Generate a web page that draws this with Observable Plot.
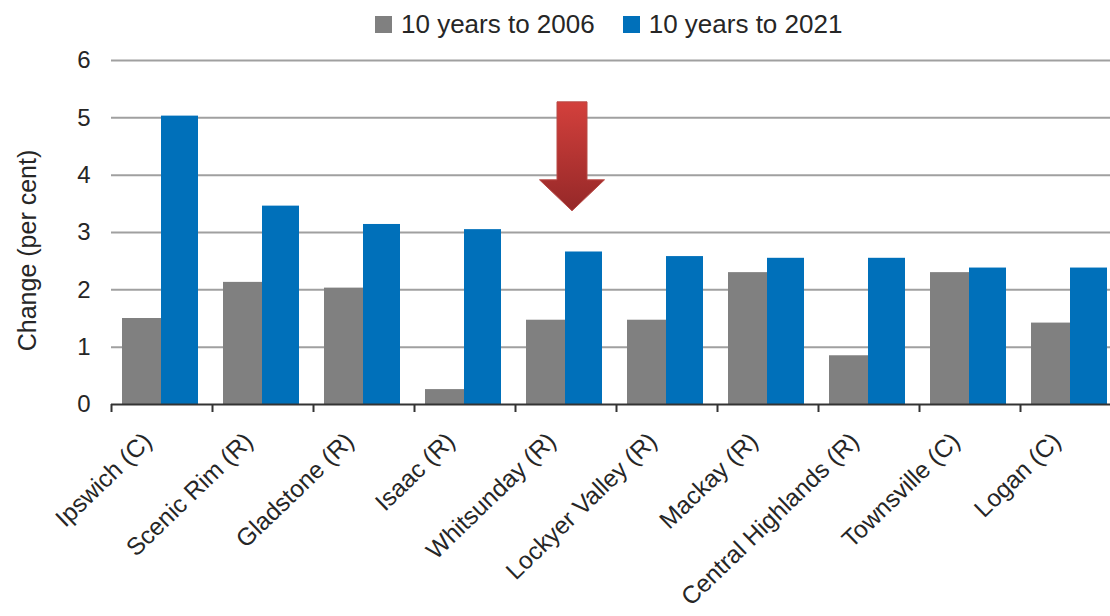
<!DOCTYPE html>
<html>
<head>
<meta charset="utf-8">
<script src="https://cdn.jsdelivr.net/npm/d3@7"></script>
<script src="https://cdn.jsdelivr.net/npm/@observablehq/plot@0.6"></script>
<style>
  body { margin: 0; background: #fff; font-family: "Liberation Sans", Arial, sans-serif; }
  #legend { height: 44px; box-sizing: border-box; padding-top: 4px; padding-left: 375px;
            display: flex; align-items: center; font-size: 26px; color: #262626; }
  .item { display: flex; align-items: center; margin-right: 28px; }
  .sw { width: 17px; height: 17px; display: inline-block; margin-right: 9px; }
</style>
</head>
<body>
<div id="legend"></div>
<div id="chart"></div>
<script>
// ---- data ----
const regions = ["Ipswich (C)", "Scenic Rim (R)", "Gladstone (R)", "Isaac (R)", "Whitsunday (R)",
                 "Lockyer Valley (R)", "Mackay (R)", "Central Highlands (R)", "Townsville (C)", "Logan (C)"];
const seriesNames = ["10 years to 2006", "10 years to 2021"];
const values2006 = [1.50, 2.13, 2.03, 0.26, 1.47, 1.47, 2.30, 0.85, 2.30, 1.42];
const values2021 = [5.03, 3.46, 3.14, 3.05, 2.66, 2.58, 2.55, 2.55, 2.38, 2.38];
const yTicks = [0, 1, 2, 3, 4, 5, 6];
const yLabel = "Change (per cent)";
// highlight arrow (data units)
const arrowRegion = "Whitsunday (R)";
const arrowTop = 5.27, arrowHeadBase = 3.91, arrowTip = 3.37;

const colors = ["#808080", "#0070BA"];

// ---- legend ----
const legend = d3.select("#legend");
seriesNames.forEach((s, i) => {
  const it = legend.append("div").attr("class", "item");
  it.append("span").attr("class", "sw").style("background", colors[i]);
  it.append("span").text(s);
});

const rows = regions.map((r, i) => ({region: r, v2006: values2006[i], v2021: values2021[i]}));

function arrowMark(index, scales) {
  const xs = typeof scales.x === "function" ? scales.x : scales.x.apply;
  const ys = typeof scales.y === "function" ? scales.y : scales.y.apply;
  const bwRaw = scales.x.bandwidth;
  const bw = typeof bwRaw === "function" ? bwRaw() : (bwRaw || 0);
  const cx = xs(arrowRegion) + bw / 2 + 6.5;
  const yT = ys(arrowTop), yB = ys(arrowHeadBase), yP = ys(arrowTip);
  const hw = 15, hh = 32.5;
  const g = d3.create("svg:g");
  const grad = g.append("defs").append("linearGradient").attr("id", "arrowGrad")
    .attr("x1", 0).attr("y1", 0).attr("x2", 0).attr("y2", 1);
  grad.append("stop").attr("offset", "0%").attr("stop-color", "#d3403c");
  grad.append("stop").attr("offset", "100%").attr("stop-color", "#952828");
  const pts = [[cx - hw, yT], [cx + hw, yT], [cx + hw, yB], [cx + hh, yB], [cx, yP], [cx - hh, yB], [cx - hw, yB]];
  g.append("path").attr("d", "M" + pts.map(p => p.join(",")).join("L") + "Z")
    .attr("fill", "url(#arrowGrad)").attr("stroke", "#b84a46").attr("stroke-width", 1);
  return g.node();
}

const chart = Plot.plot({
  width: 1110,
  height: 572,
  marginTop: 16,
  marginBottom: 212,
  marginLeft: 111,
  marginRight: 0,
  style: {fontFamily: "'Liberation Sans', Arial, sans-serif", background: "white", overflow: "visible"},
  x: {domain: regions, range: [111, 1121], padding: 0, axis: null},
  y: {domain: [0, 6], axis: null},
  marks: [
    Plot.ruleY(yTicks.filter(d => d > 0), {stroke: "#a0a0a0", strokeWidth: 2}),
    Plot.barY(rows, {x: "region", y: "v2006", fill: colors[0], insetLeft: 11, insetRight: 51}),
    Plot.barY(rows, {x: "region", y: "v2021", fill: colors[1], insetLeft: 50, insetRight: 14}),
    Plot.ruleY([0], {stroke: "#333", strokeWidth: 2}),
    Plot.ruleX(regions, {x: d => d, y1: 0, y2: 0, insetBottom: -8, dx: -50.5, stroke: "#333", strokeWidth: 2}),
    Plot.text(yTicks, {frameAnchor: "left", y: d => d, text: d => String(d), textAnchor: "end",
                       dx: -21, fontSize: 24, fill: "#262626"}),
    Plot.text([yLabel], {frameAnchor: "left", text: d => d, rotate: -90, textAnchor: "middle",
                         lineAnchor: "middle", dx: -84, dy: 18, fontSize: 25, fill: "#262626"}),
    Plot.text(regions, {x: d => d, y: 0, text: d => d, rotate: -44, textAnchor: "end",
                        lineAnchor: "middle", dx: -14, dy: 33, fontSize: 24.5, fill: "#262626"}),
    arrowMark
  ]
});
document.getElementById("chart").appendChild(chart);
</script>
</body>
</html>
